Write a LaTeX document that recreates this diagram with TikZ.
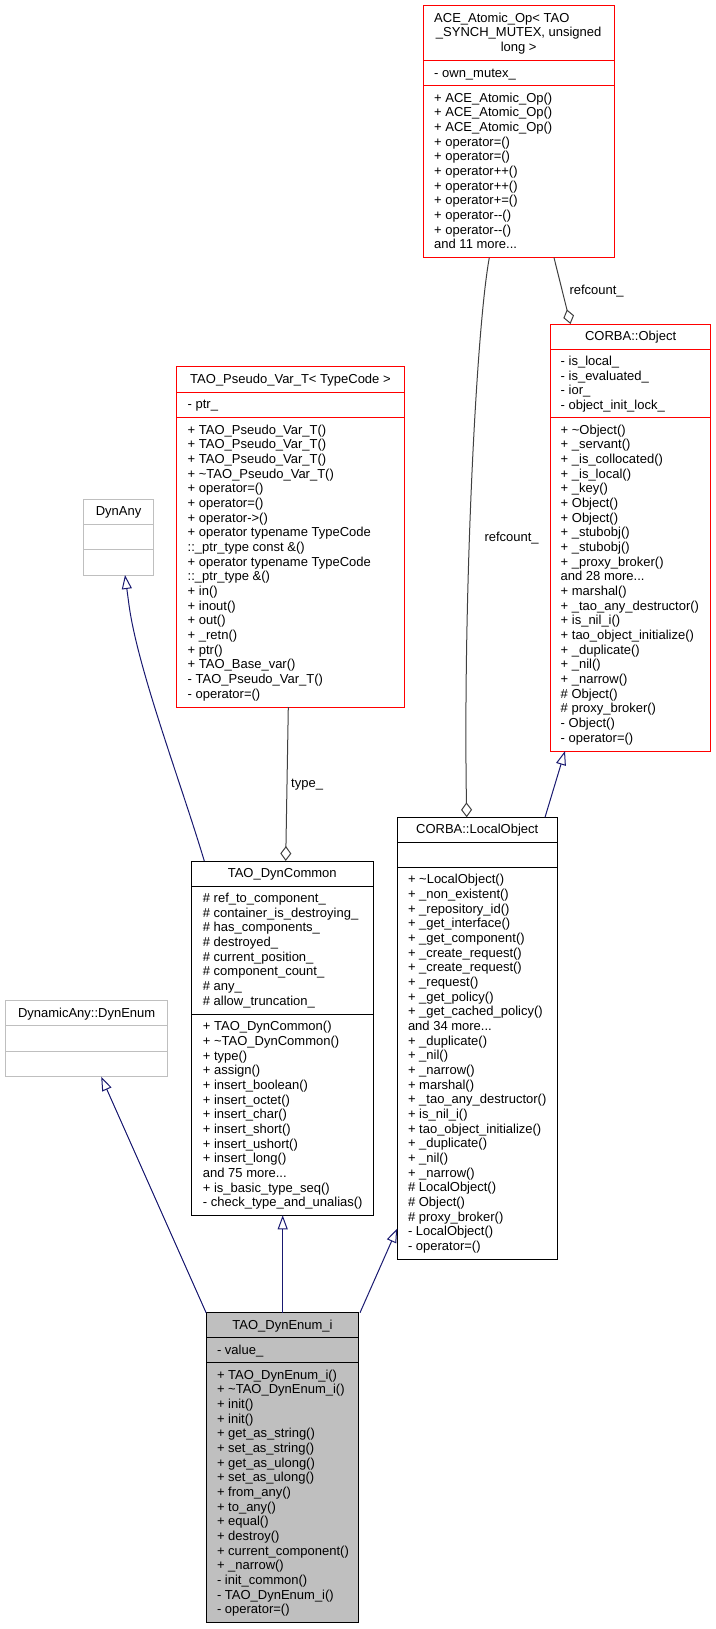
\documentclass[tikz,border=0pt]{standalone}
\usepackage{fontspec}
\setmainfont{Liberation Sans}
\usetikzlibrary{arrows.meta}
\definecolor{boxred}{HTML}{FF0000}
\definecolor{edgeblue}{HTML}{191970}
\definecolor{agggray}{HTML}{404040}
\definecolor{lgray}{HTML}{BFBFBF}
\newcommand\mydots{.{}.{}.}
\tikzset{
  box/.style={draw, line width=1pt, inner sep=0pt, outer sep=0pt},
  redbox/.style={box, draw=boxred},
  blackbox/.style={box, draw=black},
  graybox/.style={box, draw=lgray},
  selfbox/.style={box, draw=black, fill=lgray},
  txt/.style={anchor=base west, inner sep=0pt, font=\fontsize{13}{15}\selectfont},
  ttl/.style={anchor=base, inner sep=0pt, font=\fontsize{13}{15}\selectfont},
  inh/.style={draw=edgeblue, line width=1pt, -{Triangle[open, length=14pt, width=10pt]}},
  agg/.style={draw=agggray, line width=1pt, -{Diamond[open, length=15pt, width=11pt]}},
  elabel/.style={anchor=base west, inner sep=0pt, font=\fontsize{13}{15}\selectfont},
}
\begin{document}
\begin{tikzpicture}[x=1pt,y=-1pt]
\useasboundingbox (0,0) rectangle (715,1629);

% ---------------- ACE_Atomic_Op ----------------
\node[redbox, minimum width=191pt, minimum height=252pt] (ace) at (518.7,131.7) {};
\draw[boxred, line width=1pt] (ace.west |- 0,60.7) -- (ace.east |- 0,60.7);
\draw[boxred, line width=1pt] (ace.west |- 0,85.7) -- (ace.east |- 0,85.7);
\node[txt] (ace-t0) at (434,22.2) {ACE\_Atomic\_Op< TAO};
\node[ttl] (ace-t1) at (518.7,36.9) {\_SYNCH\_MUTEX, unsigned};
\node[ttl] (ace-t2) at (518.7,51.5) {long >};
\node[txt] (ace-a0) at (434,77.2) {- own\_mutex\_};
\foreach \entry [count=\i from 0] in {
  + ACE\_Atomic\_Op(), + ACE\_Atomic\_Op(), + ACE\_Atomic\_Op(),
  + operator=(), + operator=(), + operator++(), + operator++(),
  + operator+=(), + operator-{}-(), + operator-{}-(), {and 11 more\mydots}}
  \node[txt] (ace-m\i) at (434,102.2+14.67*\i) {\entry};

% ---------------- CORBA::Object ----------------
\node[redbox, minimum width=159.6pt, minimum height=427pt] (object) at (630.6,537.5) {};
\draw[boxred, line width=1pt] (object.west |- 0,349) -- (object.east |- 0,349);
\draw[boxred, line width=1pt] (object.west |- 0,417.7) -- (object.east |- 0,417.7);
\node[ttl] (object-t) at (630.6,340) {CORBA::Object};
\foreach \entry [count=\i from 0] in {
  - is\_local\_, - is\_evaluated\_, - ior\_, - object\_init\_lock\_}
  \node[txt] (object-a\i) at (560.5,365.5+14.67*\i) {\entry};
\foreach \entry [count=\i from 0] in {
  + \textasciitilde Object(), + \_servant(), + \_is\_collocated(), + \_is\_local(),
  + \_key(), + Object(), + Object(), + \_stubobj(), + \_stubobj(),
  + \_proxy\_broker(), {and 28 more\mydots}, + marshal(), + \_tao\_any\_destructor(),
  + is\_nil\_i(), + tao\_object\_initialize(), + \_duplicate(), + \_nil(),
  + \_narrow(), \# Object(), \# proxy\_broker(), - Object(), - operator=()}
  \node[txt] (object-m\i) at (560.5,434.2+14.67*\i) {\entry};

% ---------------- TAO_Pseudo_Var_T ----------------
\node[redbox, minimum width=227.1pt, minimum height=340.3pt] (pseudo) at (290.45,536.85) {};
\draw[boxred, line width=1pt] (pseudo.west |- 0,392.3) -- (pseudo.east |- 0,392.3);
\draw[boxred, line width=1pt] (pseudo.west |- 0,417.7) -- (pseudo.east |- 0,417.7);
\node[ttl] (pseudo-t) at (290.45,383.2) {TAO\_Pseudo\_Var\_T< TypeCode >};
\node[txt] (pseudo-a0) at (187.5,408.8) {- ptr\_};
\foreach \entry [count=\i from 0] in {
  + TAO\_Pseudo\_Var\_T(), + TAO\_Pseudo\_Var\_T(), + TAO\_Pseudo\_Var\_T(),
  + \textasciitilde TAO\_Pseudo\_Var\_T(), + operator=(), + operator=(),
  + operator->(), + operator typename TypeCode, ::\_ptr\_type const \&(),
  + operator typename TypeCode, ::\_ptr\_type \&(), + in(), + inout(),
  + out(), + \_retn(), + ptr(), + TAO\_Base\_var(), - TAO\_Pseudo\_Var\_T(),
  - operator=()}
  \node[txt] (pseudo-m\i) at (187.5,434.2+14.67*\i) {\entry};

% ---------------- DynAny ----------------
\node[graybox, minimum width=69.3pt, minimum height=75.7pt] (dynany) at (118.55,537.15) {};
\draw[lgray, line width=1pt] (dynany.west |- 0,524.3) -- (dynany.east |- 0,524.3);
\draw[lgray, line width=1pt] (dynany.west |- 0,549.7) -- (dynany.east |- 0,549.7);
\node[ttl] (dynany-t) at (118.55,515.8) {DynAny};

% ---------------- TAO_DynCommon ----------------
\node[blackbox, minimum width=181.5pt, minimum height=354.3pt] (dyncommon) at (282.25,1038.15) {};
\draw[line width=1pt] (dyncommon.west |- 0,886) -- (dyncommon.east |- 0,886);
\draw[line width=1pt] (dyncommon.west |- 0,1014.3) -- (dyncommon.east |- 0,1014.3);
\node[ttl] (dyncommon-t) at (282.25,877.5) {TAO\_DynCommon};
\foreach \entry [count=\i from 0] in {
  \# ref\_to\_component\_, \# container\_is\_destroying\_, \# has\_components\_,
  \# destroyed\_, \# current\_position\_, \# component\_count\_, \# any\_,
  \# allow\_truncation\_}
  \node[txt] (dyncommon-a\i) at (202.7,902.5+14.67*\i) {\entry};
\foreach \entry [count=\i from 0] in {
  + TAO\_DynCommon(), + \textasciitilde TAO\_DynCommon(), + type(), + assign(),
  + insert\_boolean(), + insert\_octet(), + insert\_char(), + insert\_short(),
  + insert\_ushort(), + insert\_long(), {and 75 more\mydots}, + is\_basic\_type\_seq(),
  - check\_type\_and\_unalias()}
  \node[txt] (dyncommon-m\i) at (202.7,1030.8+14.67*\i) {\entry};

% ---------------- CORBA::LocalObject ----------------
\node[blackbox, minimum width=160pt, minimum height=442.2pt] (localobj) at (477.2,1038.4) {};
\draw[line width=1pt] (localobj.west |- 0,842.7) -- (localobj.east |- 0,842.7);
\draw[line width=1pt] (localobj.west |- 0,867.3) -- (localobj.east |- 0,867.3);
\node[ttl] (localobj-t) at (477.2,833.8) {CORBA::LocalObject};
\foreach \entry [count=\i from 0] in {
  + \textasciitilde LocalObject(), + \_non\_existent(), + \_repository\_id(),
  + \_get\_interface(), + \_get\_component(), + \_create\_request(),
  + \_create\_request(), + \_request(), + \_get\_policy(),
  + \_get\_cached\_policy(), {and 34 more\mydots}, + \_duplicate(), + \_nil(),
  + \_narrow(), + marshal(), + \_tao\_any\_destructor(), + is\_nil\_i(),
  + tao\_object\_initialize(), + \_duplicate(), + \_nil(), + \_narrow(),
  \# LocalObject(), \# Object(), \# proxy\_broker(), - LocalObject(),
  - operator=()}
  \node[txt] (localobj-m\i) at (407.8,883.8+14.67*\i) {\entry};

% ---------------- DynamicAny::DynEnum ----------------
\node[graybox, minimum width=162.3pt, minimum height=76pt] (dynenum) at (86.65,1038.7) {};
\draw[lgray, line width=1pt] (dynenum.west |- 0,1025.7) -- (dynenum.east |- 0,1025.7);
\draw[lgray, line width=1pt] (dynenum.west |- 0,1051) -- (dynenum.east |- 0,1051);
\node[ttl] (dynenum-t) at (86.65,1017.2) {DynamicAny::DynEnum};

% ---------------- TAO_DynEnum_i ----------------
\node[selfbox, minimum width=152.8pt, minimum height=310pt] (dynenumi) at (282.5,1467.7) {};
\draw[line width=1pt] (dynenumi.west |- 0,1337.7) -- (dynenumi.east |- 0,1337.7);
\draw[line width=1pt] (dynenumi.west |- 0,1362.7) -- (dynenumi.east |- 0,1362.7);
\node[ttl] (dynenumi-t) at (282.5,1329.2) {TAO\_DynEnum\_i};
\node[txt] (dynenumi-a0) at (216.8,1354.2) {- value\_};
\foreach \entry [count=\i from 0] in {
  + TAO\_DynEnum\_i(), + \textasciitilde TAO\_DynEnum\_i(), + init(), + init(),
  + get\_as\_string(), + set\_as\_string(), + get\_as\_ulong(), + set\_as\_ulong(),
  + from\_any(), + to\_any(), + equal(), + destroy(), + current\_component(),
  + \_narrow(), - init\_common(), - TAO\_DynEnum\_i(), - operator=()}
  \node[txt] (dynenumi-m\i) at (216.8,1379.2+14.67*\i) {\entry};

% ---------------- Connectors ----------------
\draw[agg] (ace.south -| 554,0) -- (object.north -| 570.5,0);
\node[elabel] (lbl-ref1) at (569.3,294.5) {refcount\_};

\draw[agg] (ace.south -| 489.3,0) .. controls (476,330) and (463,600) .. (localobj.north -| 466.7,0);
\node[elabel] (lbl-ref2) at (484.3,541) {refcount\_};

\draw[agg] (pseudo.south -| 288.3,0) -- (dyncommon.north -| 285.7,0);
\node[elabel] (lbl-type) at (291,787) {type\_};

\coordinate (dynany-bend) at (129,605);
\draw[inh] (dyncommon.north -| 204.3,0) .. controls (180,780) and (138,670) .. (dynany-bend) -- (dynany.south -| 125,0);
\draw[inh] (dynenumi.north -| 206.1,0) -- (dynenum.south -| 101.2,0);
\draw[inh] (dynenumi.north -| 282.7,0) -- (dyncommon.south -| 282.7,0);
\draw[inh] (dynenumi.north -| 360,0) -- (localobj.west |- 0,1228.5);
\draw[inh] (localobj.north -| 545,0) -- (object.south -| 565,0);
\end{tikzpicture}
\end{document}
